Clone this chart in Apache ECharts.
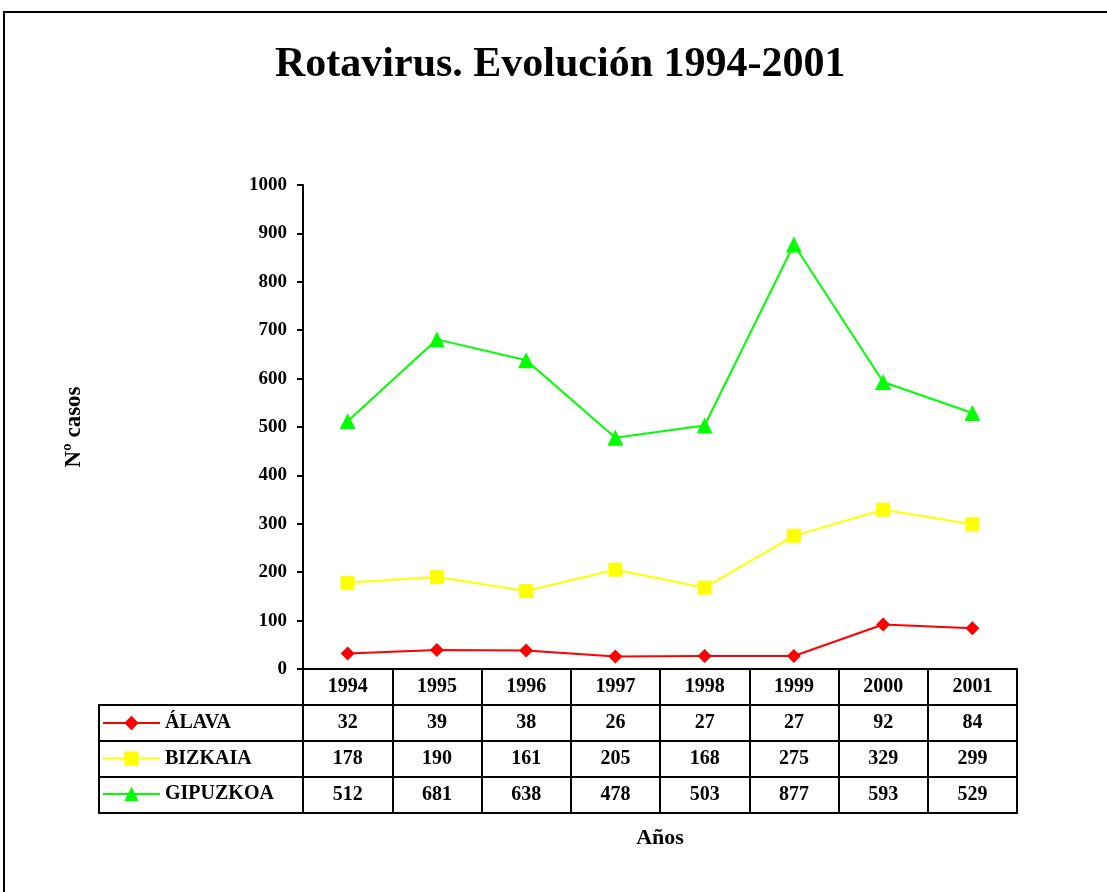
<!DOCTYPE html>
<html>
<head>
<meta charset="utf-8">
<script src="https://cdn.jsdelivr.net/npm/echarts@6/dist/echarts.min.js"></script>
<style>
  html, body { margin: 0; padding: 0; background: #fff; }
  #main { width: 1107px; height: 892px; }
</style>
</head>
<body>
<div id="main"></div>
<script>
// datos
var years = ['1994', '1995', '1996', '1997', '1998', '1999', '2000', '2001'];
var alava = [32, 39, 38, 26, 27, 27, 92, 84];
var bizkaia = [178, 190, 161, 205, 168, 275, 329, 299];
var gipuzkoa = [512, 681, 638, 478, 503, 877, 593, 529];
var seriesNames = ['ÁLAVA', 'BIZKAIA', 'GIPUZKOA'];
var yTicks = [0, 1000, 100]; // min, max, interval

var font = 'Liberation Serif';
var rows = ['hdr'].concat(seriesNames);

// celdas de la tabla
function cells(values, row) {
    return values.map(function (v, i) { return [years[i], row, v]; });
}

var chart = echarts.init(document.getElementById('main'));

var cellLabel = {
    show: true,
    position: 'inside',
    formatter: function (p) { return String(p.value[2]); },
    fontFamily: font,
    fontWeight: 'bold',
    fontSize: 20,
    color: '#000'
};

function tableSeries(values, row) {
    return {
        type: 'scatter', xAxisIndex: 1, yAxisIndex: 1,
        symbolSize: 1, silent: true,
        itemStyle: { opacity: 1, color: 'rgba(0,0,0,0)' },
        data: cells(values, row), label: cellLabel,
        emphasis: { disabled: true }
    };
}

var option = {
    animation: false,
    backgroundColor: '#fff',
    title: {
        text: 'Rotavirus. Evolución 1994-2001',
        left: 270,
        top: 39,
        textStyle: { fontFamily: font, fontWeight: 'bold', fontSize: 42, color: '#000' }
    },
    legend: {
        orient: 'vertical',
        left: 97,
        top: 708,
        itemWidth: 57,
        itemHeight: 18,
        itemGap: 15.5,
        data: seriesNames,
        textStyle: { fontFamily: font, fontWeight: 'bold', fontSize: 20, color: '#000' }
    },
    grid: [
        { left: 303, right: 90, top: 185, bottom: 223 },
        { left: 303, right: 90, top: 669, height: 144, show: true, borderColor: '#000', borderWidth: 2 }
    ],
    xAxis: [
        {
            gridIndex: 0,
            type: 'category',
            data: years,
            boundaryGap: true,
            axisLine: { lineStyle: { color: '#000', width: 2 } },
            axisTick: { show: false },
            axisLabel: { show: false }
        },
        {
            gridIndex: 1,
            type: 'category',
            data: years,
            boundaryGap: true,
            axisLine: { lineStyle: { color: '#000', width: 2 } },
            axisTick: { show: false },
            axisLabel: { show: false },
            splitLine: { show: true, lineStyle: { color: '#000', width: 2 } },
            name: 'Años',
            nameLocation: 'middle',
            nameGap: 14,
            nameTextStyle: { fontFamily: font, fontWeight: 'bold', fontSize: 22, color: '#000' }
        }
    ],
    yAxis: [
        {
            gridIndex: 0,
            type: 'value',
            min: yTicks[0],
            max: yTicks[1],
            interval: yTicks[2],
            axisLine: { show: true, lineStyle: { color: '#000', width: 2 } },
            axisTick: { show: true, length: 6, lineStyle: { color: '#000', width: 2 } },
            axisLabel: {
                fontFamily: font, fontWeight: 'bold', fontSize: 19, color: '#000', margin: 16,
                formatter: function (v) { return String(v); }
            },
            splitLine: { show: false },
            name: 'Nº casos',
            nameLocation: 'middle',
            nameGap: 217,
            nameTextStyle: { fontFamily: font, fontWeight: 'bold', fontSize: 23, color: '#000' }
        },
        {
            gridIndex: 1,
            type: 'category',
            data: rows,
            inverse: true,
            axisLine: { show: true, lineStyle: { color: '#000', width: 2 } },
            axisTick: { show: false },
            axisLabel: { show: false },
            splitLine: { show: true, lineStyle: { color: '#000', width: 2 } }
        }
    ],
    series: [
        {
            name: 'ÁLAVA', type: 'line', data: alava,
            symbol: 'diamond', symbolSize: 14,
            itemStyle: { color: '#ff0000' }, lineStyle: { color: '#ff0000', width: 2 }
        },
        {
            name: 'BIZKAIA', type: 'line', data: bizkaia,
            symbol: 'rect', symbolSize: 14,
            itemStyle: { color: '#ffff00' }, lineStyle: { color: '#ffff00', width: 2 }
        },
        {
            name: 'GIPUZKOA', type: 'line', data: gipuzkoa,
            symbol: 'triangle', symbolSize: 16,
            itemStyle: { color: '#00ff00' }, lineStyle: { color: '#00ff00', width: 2 }
        },
        // tabla de datos
        tableSeries(years, 'hdr'),
        tableSeries(alava, 'ÁLAVA'),
        tableSeries(bizkaia, 'BIZKAIA'),
        tableSeries(gipuzkoa, 'GIPUZKOA')
    ],
    graphic: [
        // marco exterior
        { type: 'rect', shape: { x: 4, y: 12, width: 1200, height: 1000 },
          style: { fill: 'none', stroke: '#000', lineWidth: 2 }, silent: true },
        // columna de la leyenda
        { type: 'rect', shape: { x: 99, y: 705, width: 204, height: 108 },
          style: { fill: 'none', stroke: '#000', lineWidth: 2 }, silent: true },
        { type: 'line', shape: { x1: 99, y1: 741, x2: 303, y2: 741 },
          style: { stroke: '#000', lineWidth: 2 }, silent: true },
        { type: 'line', shape: { x1: 99, y1: 777, x2: 303, y2: 777 },
          style: { stroke: '#000', lineWidth: 2 }, silent: true }
    ]
};

chart.setOption(option);
</script>
</body>
</html>
